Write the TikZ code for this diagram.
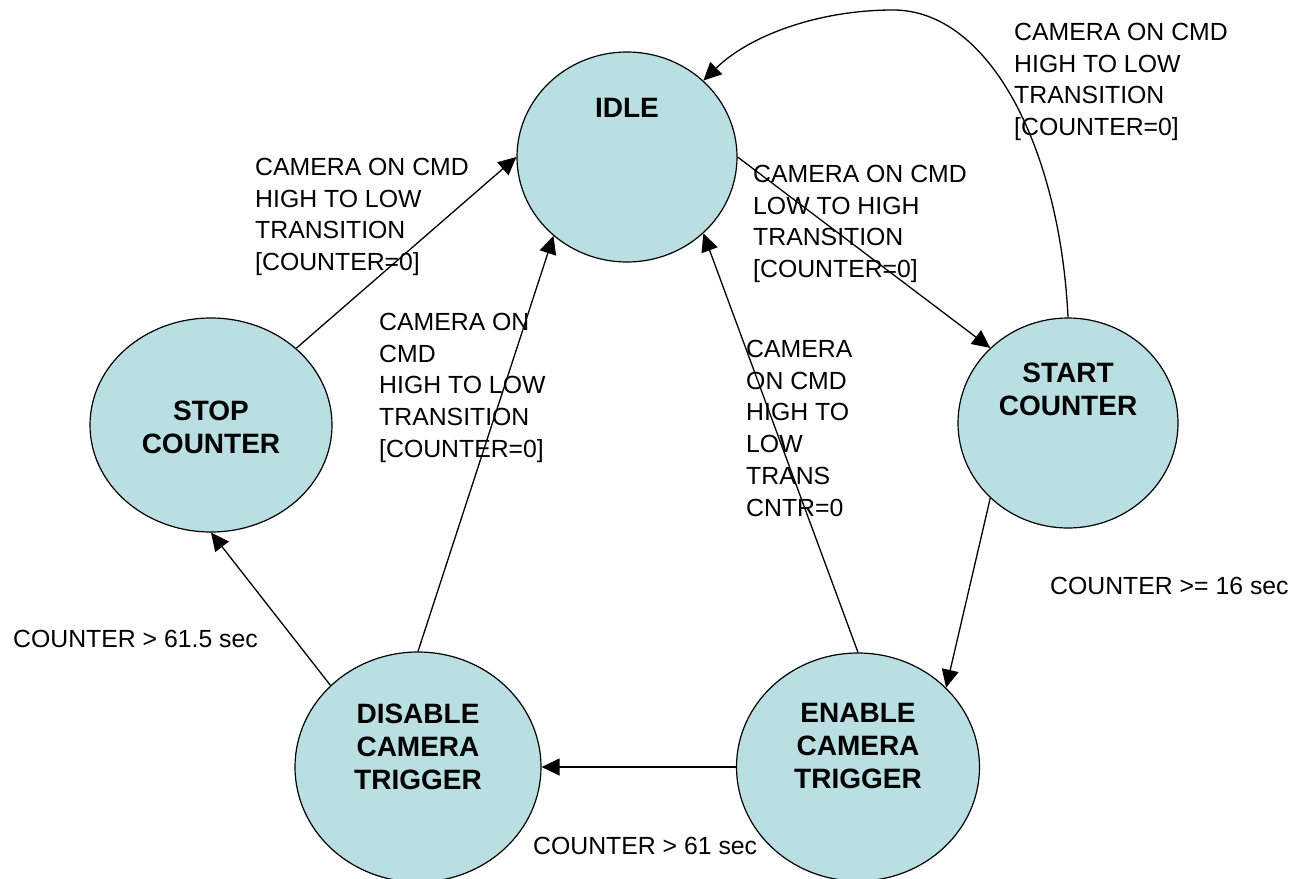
\documentclass[tikz,border=0pt]{standalone}
\usepackage{fontspec}
\setmainfont{Liberation Sans}
\usepackage{tikz}
\usetikzlibrary{arrows.meta,shapes.geometric}
\definecolor{statefill}{RGB}{185,223,227}

\begin{document}
\begin{tikzpicture}[x=1pt, y=-1pt,
  fsm state/.style={draw, ellipse, fill=statefill, line width=1.2pt, inner sep=0pt},
  state name/.style={align=center, inner sep=0pt, font=\fontsize{28}{33}\selectfont\bfseries},
  guard/.style={align=left, anchor=north west, inner sep=0pt, font=\fontsize{24.8}{31.7}\selectfont},
  trans/.style={draw, line width=1.3pt, -{Triangle[length=18pt, width=17pt]}}
]
\useasboundingbox (0,0) rectangle (1298,878);

\node[fsm state, minimum width=220pt, minimum height=210pt] (idle) at (627,157) {};
\node[fsm state, minimum width=220pt, minimum height=210pt] (start) at (1068,423) {};
\node[fsm state, minimum width=242pt, minimum height=214pt] (stop) at (211,425) {};
\node[fsm state, minimum width=246pt, minimum height=230pt] (disable) at (418,767) {};
\node[fsm state, minimum width=243pt, minimum height=228pt] (enable) at (858,767) {};

\node[state name] (idle-t) at ([yshift=49pt]idle.center) {IDLE};
\node[state name] (start-t) at ([yshift=34pt]start.center) {START\\COUNTER};
\node[state name] (stop-t) at ([yshift=-2pt]stop.center) {STOP\\COUNTER};
\node[state name] (disable-t) at ([yshift=20pt]disable.center) {DISABLE\\CAMERA\\TRIGGER};
\node[state name] (enable-t) at ([yshift=21pt]enable.center) {ENABLE\\CAMERA\\TRIGGER};

\coordinate (looptop) at (893,10);

\draw[trans] (stop.42) -- (idle.west);
\draw[trans] (disable.north) -- (idle.227);
\draw[trans] (enable.north) -- (idle.315);
\draw[trans] (idle.east) -- (start.136);
\draw[trans] (start.north) .. controls +(-8,-168) and +(97,0) .. (looptop)
  .. controls +(-73,0) and +(47,-46) .. (idle.45);
\draw[trans] (start.224) -- (enable.42);
\draw[trans] (enable.west) -- (disable.east);
\draw[trans] (disable.137) -- (stop.south);

\node[guard] (g-stop) at (255,158) {CAMERA ON CMD\\HIGH TO LOW\\TRANSITION\\{[COUNTER=0]}};
\node[guard] (g-disable) at (379,313) {CAMERA ON\\CMD\\HIGH TO LOW\\TRANSITION\\{[COUNTER=0]}};
\node[guard] (g-start) at (753,165) {CAMERA ON CMD\\LOW TO HIGH\\TRANSITION\\{[COUNTER=0]}};
\node[guard] (g-loop) at (1014,23) {CAMERA ON CMD\\HIGH TO LOW\\TRANSITION\\{[COUNTER=0]}};
\node[guard] (g-enable) at (746,340) {CAMERA\\ON CMD\\HIGH TO\\LOW\\TRANS\\CNTR=0};
\node[guard] (g-16) at (1050,577) {COUNTER >= 16 sec};
\node[guard] (g-615) at (13,630) {COUNTER > 61.5 sec};
\node[guard] (g-61) at (533,837) {COUNTER > 61 sec};
\end{tikzpicture}
\end{document}
